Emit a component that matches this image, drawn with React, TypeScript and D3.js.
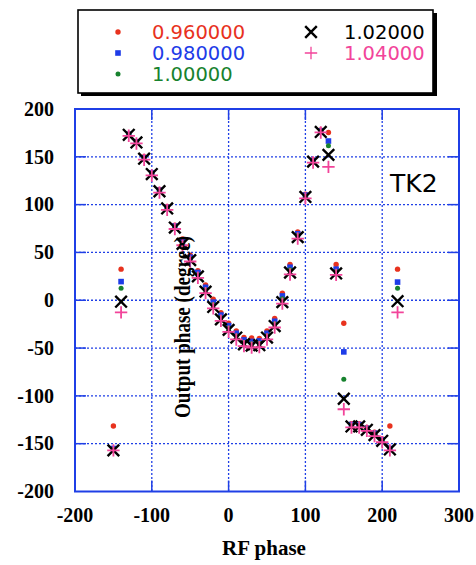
import React from "react";
import * as d3 from "d3";

const phase = [-150,-140,-130,-120,-110,-100,-90,-80,-70,-60,-50,-40,-30,-20,-10,0,10,20,30,40,50,60,70,80,90,100,110,120,130,140,150,160,170,180,190,200,210,220];

const s096 = [-131.5,32.5,174,166,150,133.5,116,98,78.5,64,47,31,16,1,-13,-24,-32,-39,-39.5,-40,-32,-19,7.5,37.5,71.5,111,147,178,175.5,37.5,-24,-129,-129,-133,-138,-145,-131.5,32.5];
const s098 = [-155,19.5,173.5,165.5,149,133,115,97,77.5,61.5,45,29,13.5,-2,-15.5,-26.5,-34.5,-41.5,-43,-42.5,-34.5,-22,4.5,34.5,69.5,110,146,177,166.5,32.5,-54,-130,-130,-134,-139,-146,-155,19];
const s100 = [-156,12.5,173,165,148.5,132.5,114.5,96.5,77,60,43.5,27,11,-4.5,-18,-29,-37,-44,-45.5,-45,-37,-24.5,1.5,32,68,109,145.5,176.5,161.5,30,-82.5,-131,-131,-134.5,-139.5,-146.5,-156,12.5];
const s102 = [-157,-1.5,173,165,148,132,114,96,76,59,42,25,9,-7,-20,-31,-39,-46,-47.5,-47,-39,-27,-2,29,66,108,145,176,152,28,-103,-132,-132,-135.5,-141,-147,-156,-1];
const s104 = [-157,-12.7,172,164,147,130.5,112.5,94.5,74.5,57.5,40.5,23.5,7.5,-8.5,-21.5,-33,-41,-48,-49.5,-49,-41,-28.5,-3.5,27,64.5,106.5,144,175.5,139.5,26.5,-114,-133,-133,-136.5,-142,-148.5,-157,-12.7];

const seriesNames = ["0.960000", "0.980000", "1.00000", "1.02000", "1.04000"];
const xTicks = [-200, -100, 0, 100, 200, 300];
const yTicks = [-200, -150, -100, -50, 0, 50, 100, 150, 200];

const RED = "#e8321e";
const BLUE = "#1e3ce8";
const GREEN = "#17822e";
const BLACK = "#000000";
const PINK = "#f2449a";
const AXIS = "#1f3fe6";

const SERIF = "'Liberation Serif', 'Times New Roman', serif";
const SANS = "'DejaVu Sans', Verdana, sans-serif";

type Kind = "circle" | "square" | "dot" | "x" | "plus";

function Marker({ kind, x, y, color, thin }: { kind: Kind; x: number; y: number; color: string; thin?: boolean }) {
  if (kind === "circle") return <circle cx={x} cy={y} r={2.7} fill={color} />;
  if (kind === "dot") return <circle cx={x} cy={y} r={2.5} fill={color} />;
  if (kind === "square") return <rect x={x - 2.8} y={y - 2.8} width={5.6} height={5.6} fill={color} />;
  if (kind === "x") {
    const s = 5.8;
    return (
      <path d={`M${x - s},${y - s}L${x + s},${y + s}M${x - s},${y + s}L${x + s},${y - s}`} stroke={color} strokeWidth={2.4} fill="none" />
    );
  }
  const s = 6.2;
  return <path d={`M${x - s},${y}L${x + s},${y}M${x},${y - s}L${x},${y + s}`} stroke={color} strokeWidth={thin ? 1.3 : 1.8} fill="none" />;
}

export default function App() {
  const left = 75, right = 459, top = 109, bottom = 491.5;
  const xScale = d3.scaleLinear().domain([-200, 300]).range([left, right]);
  const yScale = d3.scaleLinear().domain([-200, 200]).range([bottom, top]);

  const series: { vals: number[]; kind: Kind; color: string }[] = [
    { vals: s096, kind: "circle", color: RED },
    { vals: s098, kind: "square", color: BLUE },
    { vals: s100, kind: "dot", color: GREEN },
    { vals: s102, kind: "x", color: BLACK },
    { vals: s104, kind: "plus", color: PINK },
  ];

  const tickLen = 11;

  const legendItems = [
    { x: 118, tx: 152, y: 32, kind: "circle" as Kind, color: RED, label: seriesNames[0] },
    { x: 118, tx: 152, y: 53, kind: "square" as Kind, color: BLUE, label: seriesNames[1] },
    { x: 118, tx: 152, y: 74, kind: "dot" as Kind, color: GREEN, label: seriesNames[2] },
    { x: 311, tx: 344, y: 32, kind: "x" as Kind, color: BLACK, label: seriesNames[3] },
    { x: 311, tx: 344, y: 53, kind: "plus" as Kind, color: PINK, label: seriesNames[4] },
  ];

  return (
    <svg width={476} height={565} style={{ position: "absolute", left: 0, top: 0, background: "#fff" }}>
      <rect x={0} y={0} width={476} height={565} fill="#fff" />
      {/* grid */}
      {xTicks.slice(1, -1).map((t) => (
        <line key={"gx" + t} x1={xScale(t)} x2={xScale(t)} y1={top} y2={bottom} stroke={AXIS} strokeWidth={1.3} strokeDasharray="2,2" />
      ))}
      {yTicks.slice(1, -1).map((t) => (
        <line key={"gy" + t} x1={left} x2={right} y1={yScale(t)} y2={yScale(t)} stroke={AXIS} strokeWidth={1.3} strokeDasharray="2,2" />
      ))}
      {/* ticks */}
      {xTicks.slice(1, -1).map((t) => (
        <g key={"tx" + t}>
          <line x1={xScale(t)} x2={xScale(t)} y1={bottom} y2={bottom - tickLen} stroke={AXIS} strokeWidth={1.5} />
          <line x1={xScale(t)} x2={xScale(t)} y1={top} y2={top + tickLen} stroke={AXIS} strokeWidth={1.5} />
        </g>
      ))}
      {yTicks.slice(1, -1).map((t) => (
        <g key={"ty" + t}>
          <line x1={left} x2={left + tickLen} y1={yScale(t)} y2={yScale(t)} stroke={AXIS} strokeWidth={1.5} />
          <line x1={right} x2={right - tickLen} y1={yScale(t)} y2={yScale(t)} stroke={AXIS} strokeWidth={1.5} />
        </g>
      ))}
      <rect x={left} y={top} width={right - left} height={bottom - top} fill="none" stroke={AXIS} strokeWidth={2} />

      {/* tick labels */}
      {yTicks.map((t) => (
        <text key={"ly" + t} x={54} y={yScale(t) + 6.7} textAnchor="end" fontFamily={SERIF} fontWeight="bold" fontSize={20} fill="#000">
          {t}
        </text>
      ))}
      {xTicks.map((t) => (
        <text key={"lx" + t} x={xScale(t)} y={522} textAnchor="middle" fontFamily={SERIF} fontWeight="bold" fontSize={20} fill="#000">
          {t}
        </text>
      ))}
      <text x={264} y={555} textAnchor="middle" fontFamily={SERIF} fontWeight="bold" fontSize={21} fill="#000">
        RF phase
      </text>

      {/* data */}
      {series.map((s, si) => (
        <g key={"s" + si}>
          {phase.map((p, i) => (
            <Marker key={i} kind={s.kind} x={xScale(p)} y={yScale(s.vals[i])} color={s.color} />
          ))}
        </g>
      ))}

      <text
        transform="translate(190,327) rotate(-90)"
        textAnchor="middle"
        fontFamily={SERIF}
        fontWeight="bold"
        fontSize={24}
        textLength={182}
        lengthAdjust="spacingAndGlyphs"
        fill="#000"
      >
        Output phase (degree)
      </text>

      <text x={390} y={192} fontFamily={SANS} fontSize={25} fill="#000">TK2</text>

      {/* legend */}
      <rect x={81} y={13} width={356} height={83} fill="#000" />
      <rect x={78} y={10} width={355} height={83} fill="#fff" stroke="#000" strokeWidth={1.6} />
      {legendItems.map((it, i) => (
        <g key={"lg" + i}>
          <Marker kind={it.kind} x={it.x} y={it.y} color={it.color} thin />
          <text x={it.tx} y={it.y + 7.3} fontFamily={SANS} fontSize={19.5} fill={it.color}>
            {it.label}
          </text>
        </g>
      ))}
    </svg>
  );
}
